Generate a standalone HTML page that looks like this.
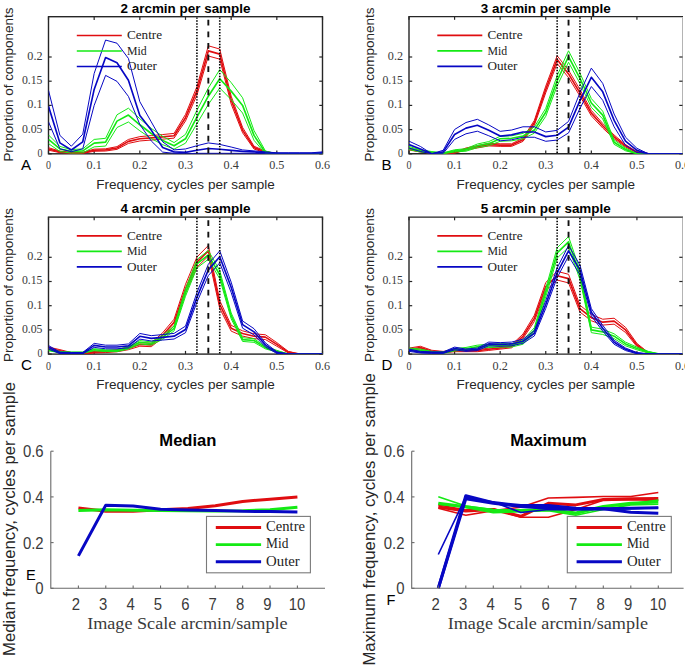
<!DOCTYPE html>
<html><head><meta charset="utf-8"><style>
html,body{margin:0;padding:0;background:#fff;}
body{width:685px;height:669px;position:relative;overflow:hidden;font-family:"Liberation Sans",sans-serif;}
</style></head><body>
<svg width="685" height="669" viewBox="0 0 685 669" style="position:absolute;left:0;top:0">
<rect width="685" height="669" fill="#fff"/>
<clipPath id="clipA"><rect x="48.5" y="16.7" width="274.0" height="137.10000000000002"/></clipPath>
<rect x="48.5" y="16.7" width="274.0" height="137.10000000000002" fill="none" stroke="#262626" stroke-width="1.4"/>
<line x1="48.50" y1="153.8" x2="48.50" y2="150.60000000000002" stroke="#262626" stroke-width="1.2"/>
<line x1="48.50" y1="16.7" x2="48.50" y2="19.9" stroke="#262626" stroke-width="1.2"/>
<line x1="94.17" y1="153.8" x2="94.17" y2="150.60000000000002" stroke="#262626" stroke-width="1.2"/>
<line x1="94.17" y1="16.7" x2="94.17" y2="19.9" stroke="#262626" stroke-width="1.2"/>
<line x1="139.83" y1="153.8" x2="139.83" y2="150.60000000000002" stroke="#262626" stroke-width="1.2"/>
<line x1="139.83" y1="16.7" x2="139.83" y2="19.9" stroke="#262626" stroke-width="1.2"/>
<line x1="185.50" y1="153.8" x2="185.50" y2="150.60000000000002" stroke="#262626" stroke-width="1.2"/>
<line x1="185.50" y1="16.7" x2="185.50" y2="19.9" stroke="#262626" stroke-width="1.2"/>
<line x1="231.17" y1="153.8" x2="231.17" y2="150.60000000000002" stroke="#262626" stroke-width="1.2"/>
<line x1="231.17" y1="16.7" x2="231.17" y2="19.9" stroke="#262626" stroke-width="1.2"/>
<line x1="276.83" y1="153.8" x2="276.83" y2="150.60000000000002" stroke="#262626" stroke-width="1.2"/>
<line x1="276.83" y1="16.7" x2="276.83" y2="19.9" stroke="#262626" stroke-width="1.2"/>
<line x1="322.50" y1="153.8" x2="322.50" y2="150.60000000000002" stroke="#262626" stroke-width="1.2"/>
<line x1="322.50" y1="16.7" x2="322.50" y2="19.9" stroke="#262626" stroke-width="1.2"/>
<line x1="48.5" y1="153.80" x2="51.7" y2="153.80" stroke="#262626" stroke-width="1.2"/>
<line x1="322.5" y1="153.80" x2="319.3" y2="153.80" stroke="#262626" stroke-width="1.2"/>
<line x1="48.5" y1="129.60" x2="51.7" y2="129.60" stroke="#262626" stroke-width="1.2"/>
<line x1="322.5" y1="129.60" x2="319.3" y2="129.60" stroke="#262626" stroke-width="1.2"/>
<line x1="48.5" y1="105.40" x2="51.7" y2="105.40" stroke="#262626" stroke-width="1.2"/>
<line x1="322.5" y1="105.40" x2="319.3" y2="105.40" stroke="#262626" stroke-width="1.2"/>
<line x1="48.5" y1="81.20" x2="51.7" y2="81.20" stroke="#262626" stroke-width="1.2"/>
<line x1="322.5" y1="81.20" x2="319.3" y2="81.20" stroke="#262626" stroke-width="1.2"/>
<line x1="48.5" y1="57.00" x2="51.7" y2="57.00" stroke="#262626" stroke-width="1.2"/>
<line x1="322.5" y1="57.00" x2="319.3" y2="57.00" stroke="#262626" stroke-width="1.2"/>
<g clip-path="url(#clipA)" fill="none" stroke-linejoin="round">
<polyline points="48.50,147.72 59.92,151.08 71.33,152.27 82.75,152.27 94.17,149.15 105.58,148.81 117.00,146.63 128.42,139.44 139.83,136.63 151.25,135.60 162.67,134.56 174.08,133.38 185.50,114.41 196.92,86.68 208.33,45.79 219.75,49.04 231.17,96.15 242.58,127.39 254.00,146.20 265.42,151.25 276.83,153.80 288.25,153.80 299.67,153.80 311.08,153.80 322.50,153.80" stroke="#e00d10" stroke-width="1.0"/>
<polyline points="48.50,150.20 59.92,152.65 71.33,153.39 82.75,153.39 94.17,151.29 105.58,151.04 117.00,149.35 128.42,143.38 139.83,140.96 151.25,140.06 162.67,139.16 174.08,138.11 185.50,120.98 196.92,95.08 208.33,56.01 219.75,59.15 231.17,104.00 242.58,132.78 254.00,149.01 265.42,152.77 276.83,153.80 288.25,153.80 299.67,153.80 311.08,153.80 322.50,153.80" stroke="#e00d10" stroke-width="1.0"/>
<polyline points="48.50,148.96 59.92,151.86 71.33,152.83 82.75,152.83 94.17,150.22 105.58,149.93 117.00,147.99 128.42,141.41 139.83,138.80 151.25,137.83 162.67,136.86 174.08,135.75 185.50,117.69 196.92,90.88 208.33,50.90 219.75,54.10 231.17,100.08 242.58,130.08 254.00,147.60 265.42,152.01 276.83,153.80 288.25,153.80 299.67,153.80 311.08,153.80 322.50,153.80" stroke="#e00d10" stroke-width="1.65"/>
<polyline points="48.50,134.95 59.92,146.43 71.33,149.59 82.75,148.93 94.17,139.43 105.58,138.30 117.00,114.76 128.42,108.19 139.83,118.73 151.25,128.38 162.67,136.34 174.08,142.58 185.50,134.39 196.92,110.28 208.33,87.98 219.75,69.59 231.17,82.59 242.58,97.78 254.00,130.55 265.42,150.96 276.83,153.80 288.25,153.80 299.67,153.80 311.08,153.80 322.50,153.80" stroke="#14ea14" stroke-width="1.0"/>
<polyline points="48.50,143.61 59.92,151.49 71.33,153.17 82.75,152.86 94.17,146.88 105.58,146.07 117.00,127.50 128.42,121.97 139.83,130.79 151.25,138.57 162.67,144.64 174.08,149.05 185.50,143.20 196.92,123.75 208.33,104.43 219.75,87.97 231.17,99.65 242.58,113.02 254.00,140.27 265.42,153.74 276.83,153.80 288.25,153.80 299.67,153.80 311.08,153.80 322.50,153.80" stroke="#14ea14" stroke-width="1.0"/>
<polyline points="48.50,139.28 59.92,148.96 71.33,151.38 82.75,150.90 94.17,143.15 105.58,142.18 117.00,121.13 128.42,115.08 139.83,124.76 151.25,133.47 162.67,140.49 174.08,145.81 185.50,138.80 196.92,117.02 208.33,96.20 219.75,78.78 231.17,91.12 242.58,105.40 254.00,135.41 265.42,152.35 276.83,153.80 288.25,153.80 299.67,153.80 311.08,153.80 322.50,153.80" stroke="#14ea14" stroke-width="1.65"/>
<polyline points="48.50,90.40 59.92,135.41 71.33,146.20 82.75,134.20 94.17,73.46 105.58,40.06 117.00,43.21 128.42,58.45 139.83,101.72 151.25,121.86 162.67,141.89 174.08,149.93 185.50,148.96 196.92,145.72 208.33,142.91 219.75,144.41 231.17,147.02 242.58,149.93 254.00,150.90 265.42,151.86 276.83,152.83 288.25,152.83 299.67,152.83 311.08,152.83 322.50,151.86" stroke="#0707c4" stroke-width="1.0"/>
<polyline points="48.50,121.86 59.92,148.81 71.33,151.72 82.75,148.81 94.17,105.40 105.58,75.39 117.00,81.39 128.42,96.40 139.83,124.52 151.25,140.93 162.67,152.11 174.08,153.32 185.50,153.80 196.92,153.32 208.33,153.32 219.75,153.32 231.17,153.32 242.58,153.32 254.00,153.32 265.42,153.80 276.83,153.80 288.25,153.80 299.67,153.80 311.08,153.80 322.50,153.80" stroke="#0707c4" stroke-width="1.0"/>
<polyline points="48.50,106.37 59.92,142.91 71.33,149.98 82.75,141.80 94.17,89.43 105.58,57.48 117.00,62.81 128.42,80.23 139.83,115.56 151.25,130.08 162.67,147.51 174.08,151.86 185.50,152.35 196.92,150.22 208.33,148.48 219.75,149.30 231.17,150.41 242.58,151.38 254.00,151.86 265.42,152.83 276.83,153.32 288.25,153.32 299.67,153.32 311.08,153.32 322.50,152.83" stroke="#0707c4" stroke-width="1.65"/>
</g>
<line x1="196.92" y1="17.40" x2="196.92" y2="153.80" stroke="#000" stroke-width="1.6" stroke-dasharray="1.45 1.47" stroke-dashoffset="0"/>
<line x1="208.33" y1="16.70" x2="208.33" y2="153.80" stroke="#111" stroke-width="1.9" stroke-dasharray="5.8 5.8" stroke-dashoffset="8.5"/>
<line x1="219.75" y1="17.40" x2="219.75" y2="153.80" stroke="#000" stroke-width="1.6" stroke-dasharray="1.45 1.47" stroke-dashoffset="0"/>
<text x="48.50" y="169.40" font-family="Liberation Serif" font-size="12.0" fill="#3a3a3a" text-anchor="middle" textLength="5.0" lengthAdjust="spacingAndGlyphs">0</text>
<text x="94.17" y="169.40" font-family="Liberation Serif" font-size="12.0" fill="#3a3a3a" text-anchor="middle" textLength="15.2" lengthAdjust="spacingAndGlyphs">0.1</text>
<text x="139.83" y="169.40" font-family="Liberation Serif" font-size="12.0" fill="#3a3a3a" text-anchor="middle" textLength="15.2" lengthAdjust="spacingAndGlyphs">0.2</text>
<text x="185.50" y="169.40" font-family="Liberation Serif" font-size="12.0" fill="#3a3a3a" text-anchor="middle" textLength="15.2" lengthAdjust="spacingAndGlyphs">0.3</text>
<text x="231.17" y="169.40" font-family="Liberation Serif" font-size="12.0" fill="#3a3a3a" text-anchor="middle" textLength="15.2" lengthAdjust="spacingAndGlyphs">0.4</text>
<text x="276.83" y="169.40" font-family="Liberation Serif" font-size="12.0" fill="#3a3a3a" text-anchor="middle" textLength="15.2" lengthAdjust="spacingAndGlyphs">0.5</text>
<text x="322.50" y="169.40" font-family="Liberation Serif" font-size="12.0" fill="#3a3a3a" text-anchor="middle" textLength="15.2" lengthAdjust="spacingAndGlyphs">0.6</text>
<text x="42.50" y="156.70" font-family="Liberation Serif" font-size="12.0" fill="#3a3a3a" text-anchor="end" textLength="5.0" lengthAdjust="spacingAndGlyphs">0</text>
<text x="42.50" y="132.50" font-family="Liberation Serif" font-size="12.0" fill="#3a3a3a" text-anchor="end" textLength="20.6" lengthAdjust="spacingAndGlyphs">0.05</text>
<text x="42.50" y="108.30" font-family="Liberation Serif" font-size="12.0" fill="#3a3a3a" text-anchor="end" textLength="15.2" lengthAdjust="spacingAndGlyphs">0.1</text>
<text x="42.50" y="84.10" font-family="Liberation Serif" font-size="12.0" fill="#3a3a3a" text-anchor="end" textLength="20.6" lengthAdjust="spacingAndGlyphs">0.15</text>
<text x="42.50" y="59.90" font-family="Liberation Serif" font-size="12.0" fill="#3a3a3a" text-anchor="end" textLength="15.2" lengthAdjust="spacingAndGlyphs">0.2</text>
<text x="185.50" y="12.70" font-family="Liberation Sans" font-weight="bold" font-size="12.6" fill="#000" text-anchor="middle" textLength="130" lengthAdjust="spacingAndGlyphs">2 arcmin per sample</text>
<text x="185.50" y="188.80" font-family="Liberation Sans" font-size="13.1" fill="#262626" text-anchor="middle" textLength="178.4" lengthAdjust="spacingAndGlyphs">Frequency, cycles per sample</text>
<text transform="translate(13.10,84.60) rotate(-90)" x="0" y="0" font-family="Liberation Sans" font-size="13.4" fill="#262626" text-anchor="middle" textLength="154" lengthAdjust="spacingAndGlyphs">Proportion of components</text>
<text x="21.10" y="169.70" font-family="Liberation Sans" font-size="15.1" fill="#000">A</text>
<line x1="76.80" y1="35.50" x2="121.80" y2="35.50" stroke="#e00d10" stroke-width="1.6"/>
<text x="127.00" y="39.10" font-family="Liberation Serif" font-size="12.2" fill="#222" textLength="35.1" lengthAdjust="spacingAndGlyphs">Centre</text>
<line x1="76.80" y1="51.00" x2="121.80" y2="51.00" stroke="#14ea14" stroke-width="1.6"/>
<text x="127.00" y="54.60" font-family="Liberation Serif" font-size="12.2" fill="#222" textLength="19.7" lengthAdjust="spacingAndGlyphs">Mid</text>
<line x1="76.80" y1="66.50" x2="121.80" y2="66.50" stroke="#0707c4" stroke-width="1.6"/>
<text x="127.00" y="70.10" font-family="Liberation Serif" font-size="12.2" fill="#222" textLength="30.0" lengthAdjust="spacingAndGlyphs">Outer</text>
<clipPath id="clipB"><rect x="409.0" y="16.6" width="273.5" height="137.20000000000002"/></clipPath>
<path d="M683.00,16.6 H409.0 V153.8 H683.00" fill="none" stroke="#262626" stroke-width="1.4"/>
<line x1="682.50" y1="17.30" x2="682.50" y2="153.10" stroke="#b4b4b4" stroke-width="1.0"/>
<line x1="409.00" y1="153.8" x2="409.00" y2="150.60000000000002" stroke="#262626" stroke-width="1.2"/>
<line x1="409.00" y1="16.6" x2="409.00" y2="19.8" stroke="#262626" stroke-width="1.2"/>
<line x1="454.58" y1="153.8" x2="454.58" y2="150.60000000000002" stroke="#262626" stroke-width="1.2"/>
<line x1="454.58" y1="16.6" x2="454.58" y2="19.8" stroke="#262626" stroke-width="1.2"/>
<line x1="500.17" y1="153.8" x2="500.17" y2="150.60000000000002" stroke="#262626" stroke-width="1.2"/>
<line x1="500.17" y1="16.6" x2="500.17" y2="19.8" stroke="#262626" stroke-width="1.2"/>
<line x1="545.75" y1="153.8" x2="545.75" y2="150.60000000000002" stroke="#262626" stroke-width="1.2"/>
<line x1="545.75" y1="16.6" x2="545.75" y2="19.8" stroke="#262626" stroke-width="1.2"/>
<line x1="591.33" y1="153.8" x2="591.33" y2="150.60000000000002" stroke="#262626" stroke-width="1.2"/>
<line x1="591.33" y1="16.6" x2="591.33" y2="19.8" stroke="#262626" stroke-width="1.2"/>
<line x1="636.92" y1="153.8" x2="636.92" y2="150.60000000000002" stroke="#262626" stroke-width="1.2"/>
<line x1="636.92" y1="16.6" x2="636.92" y2="19.8" stroke="#262626" stroke-width="1.2"/>
<line x1="409.0" y1="153.80" x2="412.2" y2="153.80" stroke="#262626" stroke-width="1.2"/>
<line x1="682.5" y1="153.80" x2="679.3" y2="153.80" stroke="#262626" stroke-width="1.2"/>
<line x1="409.0" y1="129.60" x2="412.2" y2="129.60" stroke="#262626" stroke-width="1.2"/>
<line x1="682.5" y1="129.60" x2="679.3" y2="129.60" stroke="#262626" stroke-width="1.2"/>
<line x1="409.0" y1="105.40" x2="412.2" y2="105.40" stroke="#262626" stroke-width="1.2"/>
<line x1="682.5" y1="105.40" x2="679.3" y2="105.40" stroke="#262626" stroke-width="1.2"/>
<line x1="409.0" y1="81.20" x2="412.2" y2="81.20" stroke="#262626" stroke-width="1.2"/>
<line x1="682.5" y1="81.20" x2="679.3" y2="81.20" stroke="#262626" stroke-width="1.2"/>
<line x1="409.0" y1="57.00" x2="412.2" y2="57.00" stroke="#262626" stroke-width="1.2"/>
<line x1="682.5" y1="57.00" x2="679.3" y2="57.00" stroke="#262626" stroke-width="1.2"/>
<g clip-path="url(#clipB)" fill="none" stroke-linejoin="round">
<polyline points="409.00,147.99 420.40,150.69 431.79,152.40 443.19,153.01 454.58,152.40 465.98,147.99 477.38,145.61 488.77,143.27 500.17,143.79 511.56,143.79 522.96,138.12 534.35,120.43 545.75,86.11 557.15,55.74 568.54,70.31 579.94,89.57 591.33,110.43 602.73,123.44 614.12,135.06 625.52,144.57 636.92,151.81 648.31,153.80 659.71,153.80 671.10,153.80 682.50,153.80" stroke="#e00d10" stroke-width="1.0"/>
<polyline points="409.00,149.93 420.40,152.07 431.79,153.27 443.19,153.63 454.58,153.27 465.98,149.93 477.38,147.95 488.77,145.94 500.17,146.39 511.56,146.39 522.96,141.40 534.35,125.22 545.75,92.75 557.15,63.48 568.54,77.57 579.94,96.06 591.33,115.86 602.73,128.01 614.12,138.66 625.52,147.06 636.92,152.88 648.31,153.80 659.71,153.80 671.10,153.80 682.50,153.80" stroke="#e00d10" stroke-width="1.0"/>
<polyline points="409.00,148.96 420.40,151.38 431.79,152.83 443.19,153.32 454.58,152.83 465.98,148.96 477.38,146.78 488.77,144.60 500.17,145.09 511.56,145.09 522.96,139.76 534.35,122.82 545.75,89.43 557.15,59.61 568.54,73.94 579.94,92.82 591.33,113.14 602.73,125.73 614.12,136.86 625.52,145.81 636.92,152.35 648.31,153.80 659.71,153.80 671.10,153.80 682.50,153.80" stroke="#e00d10" stroke-width="1.65"/>
<polyline points="409.00,146.44 420.40,149.79 431.79,151.57 443.19,152.86 454.58,149.79 465.98,148.66 477.38,144.00 488.77,141.59 500.17,136.32 511.56,135.80 522.96,133.41 534.35,127.00 545.75,108.33 557.15,75.61 568.54,50.80 579.94,73.12 591.33,98.60 602.73,111.21 614.12,140.00 625.52,148.10 636.92,153.80 648.31,153.80 659.71,153.80 671.10,153.80 682.50,153.80" stroke="#14ea14" stroke-width="1.0"/>
<polyline points="409.00,149.55 420.40,152.00 431.79,153.13 443.19,153.77 454.58,152.00 465.98,151.20 477.38,147.63 488.77,145.68 500.17,141.27 511.56,140.82 522.96,138.77 534.35,133.16 545.75,116.32 557.15,85.83 568.54,62.24 579.94,83.47 591.33,107.36 602.73,118.95 614.12,144.37 625.52,150.79 636.92,153.80 648.31,153.80 659.71,153.80 671.10,153.80 682.50,153.80" stroke="#14ea14" stroke-width="1.0"/>
<polyline points="409.00,147.99 420.40,150.90 431.79,152.35 443.19,153.32 454.58,150.90 465.98,149.93 477.38,145.81 488.77,143.64 500.17,138.80 511.56,138.31 522.96,136.09 534.35,130.08 545.75,112.32 557.15,80.72 568.54,56.52 579.94,78.30 591.33,102.98 602.73,115.08 614.12,142.18 625.52,149.44 636.92,153.80 648.31,153.80 659.71,153.80 671.10,153.80 682.50,153.80" stroke="#14ea14" stroke-width="1.65"/>
<polyline points="409.00,141.16 420.40,146.45 431.79,153.80 443.19,150.27 454.58,129.50 465.98,122.50 477.38,119.30 488.77,124.91 500.17,131.35 511.56,130.04 522.96,126.79 534.35,126.79 545.75,131.95 557.15,130.37 568.54,121.43 579.94,92.67 591.33,68.13 602.73,83.42 614.12,114.01 625.52,137.20 636.92,148.31 648.31,153.80 659.71,153.80 671.10,153.80 682.50,153.80" stroke="#0707c4" stroke-width="1.0"/>
<polyline points="409.00,148.05 420.40,151.47 431.79,153.80 443.19,153.46 454.58,139.38 465.98,133.80 477.38,131.19 488.77,135.75 500.17,140.82 511.56,139.81 522.96,137.25 534.35,137.25 545.75,141.29 557.15,140.06 568.54,132.93 579.94,108.45 591.33,86.53 602.73,100.28 614.12,126.80 625.52,145.23 636.92,152.52 648.31,153.80 659.71,153.80 671.10,153.80 682.50,153.80" stroke="#0707c4" stroke-width="1.0"/>
<polyline points="409.00,144.60 420.40,148.96 431.79,153.80 443.19,151.86 454.58,134.44 465.98,128.15 477.38,125.24 488.77,130.33 500.17,136.09 511.56,134.92 522.96,132.02 534.35,132.02 545.75,136.62 557.15,135.21 568.54,127.18 579.94,100.56 591.33,77.33 602.73,91.85 614.12,120.40 625.52,141.22 636.92,150.41 648.31,153.80 659.71,153.80 671.10,153.80 682.50,153.80" stroke="#0707c4" stroke-width="1.65"/>
</g>
<line x1="557.15" y1="17.30" x2="557.15" y2="153.80" stroke="#000" stroke-width="1.6" stroke-dasharray="1.45 1.47" stroke-dashoffset="0"/>
<line x1="568.54" y1="16.60" x2="568.54" y2="153.80" stroke="#111" stroke-width="1.9" stroke-dasharray="5.8 5.8" stroke-dashoffset="8.5"/>
<line x1="579.94" y1="17.30" x2="579.94" y2="153.80" stroke="#000" stroke-width="1.6" stroke-dasharray="1.45 1.47" stroke-dashoffset="0"/>
<text x="409.00" y="169.40" font-family="Liberation Serif" font-size="12.0" fill="#3a3a3a" text-anchor="middle" textLength="5.0" lengthAdjust="spacingAndGlyphs">0</text>
<text x="454.58" y="169.40" font-family="Liberation Serif" font-size="12.0" fill="#3a3a3a" text-anchor="middle" textLength="15.2" lengthAdjust="spacingAndGlyphs">0.1</text>
<text x="500.17" y="169.40" font-family="Liberation Serif" font-size="12.0" fill="#3a3a3a" text-anchor="middle" textLength="15.2" lengthAdjust="spacingAndGlyphs">0.2</text>
<text x="545.75" y="169.40" font-family="Liberation Serif" font-size="12.0" fill="#3a3a3a" text-anchor="middle" textLength="15.2" lengthAdjust="spacingAndGlyphs">0.3</text>
<text x="591.33" y="169.40" font-family="Liberation Serif" font-size="12.0" fill="#3a3a3a" text-anchor="middle" textLength="15.2" lengthAdjust="spacingAndGlyphs">0.4</text>
<text x="636.92" y="169.40" font-family="Liberation Serif" font-size="12.0" fill="#3a3a3a" text-anchor="middle" textLength="15.2" lengthAdjust="spacingAndGlyphs">0.5</text>
<text x="682.50" y="169.40" font-family="Liberation Serif" font-size="12.0" fill="#3a3a3a" text-anchor="middle" textLength="15.2" lengthAdjust="spacingAndGlyphs">0.6</text>
<text x="403.00" y="156.70" font-family="Liberation Serif" font-size="12.0" fill="#3a3a3a" text-anchor="end" textLength="5.0" lengthAdjust="spacingAndGlyphs">0</text>
<text x="403.00" y="132.50" font-family="Liberation Serif" font-size="12.0" fill="#3a3a3a" text-anchor="end" textLength="20.6" lengthAdjust="spacingAndGlyphs">0.05</text>
<text x="403.00" y="108.30" font-family="Liberation Serif" font-size="12.0" fill="#3a3a3a" text-anchor="end" textLength="15.2" lengthAdjust="spacingAndGlyphs">0.1</text>
<text x="403.00" y="84.10" font-family="Liberation Serif" font-size="12.0" fill="#3a3a3a" text-anchor="end" textLength="20.6" lengthAdjust="spacingAndGlyphs">0.15</text>
<text x="403.00" y="59.90" font-family="Liberation Serif" font-size="12.0" fill="#3a3a3a" text-anchor="end" textLength="15.2" lengthAdjust="spacingAndGlyphs">0.2</text>
<text x="545.75" y="12.60" font-family="Liberation Sans" font-weight="bold" font-size="12.6" fill="#000" text-anchor="middle" textLength="130" lengthAdjust="spacingAndGlyphs">3 arcmin per sample</text>
<text x="545.75" y="188.80" font-family="Liberation Sans" font-size="13.1" fill="#262626" text-anchor="middle" textLength="178.4" lengthAdjust="spacingAndGlyphs">Frequency, cycles per sample</text>
<text transform="translate(373.60,84.60) rotate(-90)" x="0" y="0" font-family="Liberation Sans" font-size="13.4" fill="#262626" text-anchor="middle" textLength="154" lengthAdjust="spacingAndGlyphs">Proportion of components</text>
<text x="381.60" y="169.70" font-family="Liberation Sans" font-size="15.1" fill="#000">B</text>
<line x1="437.30" y1="35.40" x2="482.30" y2="35.40" stroke="#e00d10" stroke-width="1.6"/>
<text x="487.50" y="39.00" font-family="Liberation Serif" font-size="12.2" fill="#222" textLength="35.1" lengthAdjust="spacingAndGlyphs">Centre</text>
<line x1="437.30" y1="50.90" x2="482.30" y2="50.90" stroke="#14ea14" stroke-width="1.6"/>
<text x="487.50" y="54.50" font-family="Liberation Serif" font-size="12.2" fill="#222" textLength="19.7" lengthAdjust="spacingAndGlyphs">Mid</text>
<line x1="437.30" y1="66.40" x2="482.30" y2="66.40" stroke="#0707c4" stroke-width="1.6"/>
<text x="487.50" y="70.00" font-family="Liberation Serif" font-size="12.2" fill="#222" textLength="30.0" lengthAdjust="spacingAndGlyphs">Outer</text>
<clipPath id="clipC"><rect x="48.5" y="217.1" width="274.0" height="137.00000000000003"/></clipPath>
<rect x="48.5" y="217.1" width="274.0" height="137.00000000000003" fill="none" stroke="#262626" stroke-width="1.4"/>
<line x1="48.50" y1="354.1" x2="48.50" y2="350.90000000000003" stroke="#262626" stroke-width="1.2"/>
<line x1="48.50" y1="217.1" x2="48.50" y2="220.29999999999998" stroke="#262626" stroke-width="1.2"/>
<line x1="94.17" y1="354.1" x2="94.17" y2="350.90000000000003" stroke="#262626" stroke-width="1.2"/>
<line x1="94.17" y1="217.1" x2="94.17" y2="220.29999999999998" stroke="#262626" stroke-width="1.2"/>
<line x1="139.83" y1="354.1" x2="139.83" y2="350.90000000000003" stroke="#262626" stroke-width="1.2"/>
<line x1="139.83" y1="217.1" x2="139.83" y2="220.29999999999998" stroke="#262626" stroke-width="1.2"/>
<line x1="185.50" y1="354.1" x2="185.50" y2="350.90000000000003" stroke="#262626" stroke-width="1.2"/>
<line x1="185.50" y1="217.1" x2="185.50" y2="220.29999999999998" stroke="#262626" stroke-width="1.2"/>
<line x1="231.17" y1="354.1" x2="231.17" y2="350.90000000000003" stroke="#262626" stroke-width="1.2"/>
<line x1="231.17" y1="217.1" x2="231.17" y2="220.29999999999998" stroke="#262626" stroke-width="1.2"/>
<line x1="276.83" y1="354.1" x2="276.83" y2="350.90000000000003" stroke="#262626" stroke-width="1.2"/>
<line x1="276.83" y1="217.1" x2="276.83" y2="220.29999999999998" stroke="#262626" stroke-width="1.2"/>
<line x1="322.50" y1="354.1" x2="322.50" y2="350.90000000000003" stroke="#262626" stroke-width="1.2"/>
<line x1="322.50" y1="217.1" x2="322.50" y2="220.29999999999998" stroke="#262626" stroke-width="1.2"/>
<line x1="48.5" y1="354.10" x2="51.7" y2="354.10" stroke="#262626" stroke-width="1.2"/>
<line x1="322.5" y1="354.10" x2="319.3" y2="354.10" stroke="#262626" stroke-width="1.2"/>
<line x1="48.5" y1="329.90" x2="51.7" y2="329.90" stroke="#262626" stroke-width="1.2"/>
<line x1="322.5" y1="329.90" x2="319.3" y2="329.90" stroke="#262626" stroke-width="1.2"/>
<line x1="48.5" y1="305.70" x2="51.7" y2="305.70" stroke="#262626" stroke-width="1.2"/>
<line x1="322.5" y1="305.70" x2="319.3" y2="305.70" stroke="#262626" stroke-width="1.2"/>
<line x1="48.5" y1="281.50" x2="51.7" y2="281.50" stroke="#262626" stroke-width="1.2"/>
<line x1="322.5" y1="281.50" x2="319.3" y2="281.50" stroke="#262626" stroke-width="1.2"/>
<line x1="48.5" y1="257.30" x2="51.7" y2="257.30" stroke="#262626" stroke-width="1.2"/>
<line x1="322.5" y1="257.30" x2="319.3" y2="257.30" stroke="#262626" stroke-width="1.2"/>
<g clip-path="url(#clipC)" fill="none" stroke-linejoin="round">
<polyline points="48.50,347.10 59.92,349.63 71.33,352.55 82.75,353.21 94.17,351.35 105.58,350.77 117.00,349.63 128.42,346.88 139.83,342.61 151.25,343.14 162.67,332.72 174.08,319.20 185.50,284.34 196.92,257.07 208.33,245.51 219.75,300.57 231.17,325.30 242.58,330.87 254.00,333.75 265.42,334.78 276.83,342.61 288.25,351.35 299.67,354.10 311.08,354.10 322.50,354.10" stroke="#e00d10" stroke-width="1.0"/>
<polyline points="48.50,349.87 59.92,351.79 71.33,353.71 82.75,354.02 94.17,352.98 105.58,352.59 117.00,351.79 128.42,349.70 139.83,346.23 151.25,346.67 162.67,337.73 174.08,325.60 185.50,293.18 196.92,267.21 208.33,256.11 219.75,308.41 231.17,331.12 242.58,336.09 254.00,338.63 265.42,339.54 276.83,346.23 288.25,352.98 299.67,354.10 311.08,354.10 322.50,354.10" stroke="#e00d10" stroke-width="1.0"/>
<polyline points="48.50,348.49 59.92,350.71 71.33,353.13 82.75,353.62 94.17,352.16 105.58,351.68 117.00,350.71 128.42,348.29 139.83,344.42 151.25,344.90 162.67,335.22 174.08,322.40 185.50,288.76 196.92,262.14 208.33,250.81 219.75,304.49 231.17,328.21 242.58,333.48 254.00,336.19 265.42,337.16 276.83,344.42 288.25,352.16 299.67,354.10 311.08,354.10 322.50,354.10" stroke="#e00d10" stroke-width="1.65"/>
<polyline points="48.50,348.72 59.92,351.48 71.33,352.06 82.75,352.06 94.17,348.72 105.58,349.81 117.00,349.81 128.42,346.58 139.83,340.62 151.25,341.86 162.67,335.32 174.08,326.02 185.50,289.03 196.92,259.57 208.33,250.51 219.75,270.72 231.17,312.94 242.58,337.73 254.00,338.76 265.42,346.37 276.83,350.36 288.25,354.10 299.67,354.10 311.08,354.10 322.50,354.10" stroke="#14ea14" stroke-width="1.0"/>
<polyline points="48.50,350.77 59.92,352.85 71.33,353.24 82.75,353.24 94.17,350.77 105.58,351.61 117.00,351.61 128.42,349.03 139.83,343.96 151.25,345.04 162.67,339.29 174.08,330.87 185.50,296.24 196.92,268.00 208.33,259.25 219.75,278.73 231.17,318.78 242.58,341.43 254.00,342.33 265.42,348.86 276.83,352.03 288.25,354.10 299.67,354.10 311.08,354.10 322.50,354.10" stroke="#14ea14" stroke-width="1.0"/>
<polyline points="48.50,349.74 59.92,352.16 71.33,352.65 82.75,352.65 94.17,349.74 105.58,350.71 117.00,350.71 128.42,347.81 139.83,342.29 151.25,343.45 162.67,337.31 174.08,328.45 185.50,292.63 196.92,263.79 208.33,254.88 219.75,274.72 231.17,315.86 242.58,339.58 254.00,340.55 265.42,347.61 276.83,351.20 288.25,354.10 299.67,354.10 311.08,354.10 322.50,354.10" stroke="#14ea14" stroke-width="1.65"/>
<polyline points="48.50,345.56 59.92,352.14 71.33,352.46 82.75,352.46 94.17,343.39 105.58,345.18 117.00,345.18 128.42,343.93 139.83,333.46 151.25,335.66 162.67,334.56 174.08,333.36 185.50,326.11 196.92,292.65 208.33,264.19 219.75,250.80 231.17,282.13 242.58,320.98 254.00,328.69 265.42,342.86 276.83,351.83 288.25,354.10 299.67,354.10 311.08,354.10 322.50,354.10" stroke="#0707c4" stroke-width="1.0"/>
<polyline points="48.50,349.09 59.92,353.64 71.33,353.80 82.75,353.80 94.17,347.38 105.58,348.79 117.00,348.79 128.42,347.81 139.83,339.11 151.25,340.99 162.67,340.05 174.08,339.02 185.50,332.72 196.92,302.30 208.33,275.57 219.75,262.83 231.17,292.48 242.58,328.17 254.00,334.98 265.42,346.95 276.83,353.47 288.25,354.10 299.67,354.10 311.08,354.10 322.50,354.10" stroke="#0707c4" stroke-width="1.0"/>
<polyline points="48.50,347.32 59.92,352.89 71.33,353.13 82.75,353.13 94.17,345.39 105.58,346.99 117.00,346.99 128.42,345.87 139.83,336.29 151.25,338.32 162.67,337.31 174.08,336.19 185.50,329.42 196.92,297.47 208.33,269.88 219.75,256.82 231.17,287.31 242.58,324.58 254.00,331.84 265.42,344.90 276.83,352.65 288.25,354.10 299.67,354.10 311.08,354.10 322.50,354.10" stroke="#0707c4" stroke-width="1.65"/>
</g>
<line x1="196.92" y1="217.80" x2="196.92" y2="354.10" stroke="#000" stroke-width="1.6" stroke-dasharray="1.45 1.47" stroke-dashoffset="0"/>
<line x1="208.33" y1="217.10" x2="208.33" y2="354.10" stroke="#111" stroke-width="1.9" stroke-dasharray="5.8 5.8" stroke-dashoffset="8.5"/>
<line x1="219.75" y1="217.80" x2="219.75" y2="354.10" stroke="#000" stroke-width="1.6" stroke-dasharray="1.45 1.47" stroke-dashoffset="0"/>
<text x="48.50" y="369.70" font-family="Liberation Serif" font-size="12.0" fill="#3a3a3a" text-anchor="middle" textLength="5.0" lengthAdjust="spacingAndGlyphs">0</text>
<text x="94.17" y="369.70" font-family="Liberation Serif" font-size="12.0" fill="#3a3a3a" text-anchor="middle" textLength="15.2" lengthAdjust="spacingAndGlyphs">0.1</text>
<text x="139.83" y="369.70" font-family="Liberation Serif" font-size="12.0" fill="#3a3a3a" text-anchor="middle" textLength="15.2" lengthAdjust="spacingAndGlyphs">0.2</text>
<text x="185.50" y="369.70" font-family="Liberation Serif" font-size="12.0" fill="#3a3a3a" text-anchor="middle" textLength="15.2" lengthAdjust="spacingAndGlyphs">0.3</text>
<text x="231.17" y="369.70" font-family="Liberation Serif" font-size="12.0" fill="#3a3a3a" text-anchor="middle" textLength="15.2" lengthAdjust="spacingAndGlyphs">0.4</text>
<text x="276.83" y="369.70" font-family="Liberation Serif" font-size="12.0" fill="#3a3a3a" text-anchor="middle" textLength="15.2" lengthAdjust="spacingAndGlyphs">0.5</text>
<text x="322.50" y="369.70" font-family="Liberation Serif" font-size="12.0" fill="#3a3a3a" text-anchor="middle" textLength="15.2" lengthAdjust="spacingAndGlyphs">0.6</text>
<text x="42.50" y="357.00" font-family="Liberation Serif" font-size="12.0" fill="#3a3a3a" text-anchor="end" textLength="5.0" lengthAdjust="spacingAndGlyphs">0</text>
<text x="42.50" y="332.80" font-family="Liberation Serif" font-size="12.0" fill="#3a3a3a" text-anchor="end" textLength="20.6" lengthAdjust="spacingAndGlyphs">0.05</text>
<text x="42.50" y="308.60" font-family="Liberation Serif" font-size="12.0" fill="#3a3a3a" text-anchor="end" textLength="15.2" lengthAdjust="spacingAndGlyphs">0.1</text>
<text x="42.50" y="284.40" font-family="Liberation Serif" font-size="12.0" fill="#3a3a3a" text-anchor="end" textLength="20.6" lengthAdjust="spacingAndGlyphs">0.15</text>
<text x="42.50" y="260.20" font-family="Liberation Serif" font-size="12.0" fill="#3a3a3a" text-anchor="end" textLength="15.2" lengthAdjust="spacingAndGlyphs">0.2</text>
<text x="185.50" y="213.10" font-family="Liberation Sans" font-weight="bold" font-size="12.6" fill="#000" text-anchor="middle" textLength="130" lengthAdjust="spacingAndGlyphs">4 arcmin per sample</text>
<text x="185.50" y="389.10" font-family="Liberation Sans" font-size="13.1" fill="#262626" text-anchor="middle" textLength="178.4" lengthAdjust="spacingAndGlyphs">Frequency, cycles per sample</text>
<text transform="translate(13.10,284.90) rotate(-90)" x="0" y="0" font-family="Liberation Sans" font-size="13.4" fill="#262626" text-anchor="middle" textLength="154" lengthAdjust="spacingAndGlyphs">Proportion of components</text>
<text x="21.10" y="370.00" font-family="Liberation Sans" font-size="15.1" fill="#000">C</text>
<line x1="76.80" y1="235.90" x2="121.80" y2="235.90" stroke="#e00d10" stroke-width="1.6"/>
<text x="127.00" y="239.50" font-family="Liberation Serif" font-size="12.2" fill="#222" textLength="35.1" lengthAdjust="spacingAndGlyphs">Centre</text>
<line x1="76.80" y1="251.40" x2="121.80" y2="251.40" stroke="#14ea14" stroke-width="1.6"/>
<text x="127.00" y="255.00" font-family="Liberation Serif" font-size="12.2" fill="#222" textLength="19.7" lengthAdjust="spacingAndGlyphs">Mid</text>
<line x1="76.80" y1="266.90" x2="121.80" y2="266.90" stroke="#0707c4" stroke-width="1.6"/>
<text x="127.00" y="270.50" font-family="Liberation Serif" font-size="12.2" fill="#222" textLength="30.0" lengthAdjust="spacingAndGlyphs">Outer</text>
<clipPath id="clipD"><rect x="409.0" y="217.1" width="273.5" height="137.00000000000003"/></clipPath>
<path d="M683.00,217.1 H409.0 V354.1 H683.00" fill="none" stroke="#262626" stroke-width="1.4"/>
<line x1="682.50" y1="217.80" x2="682.50" y2="353.40" stroke="#b4b4b4" stroke-width="1.0"/>
<line x1="409.00" y1="354.1" x2="409.00" y2="350.90000000000003" stroke="#262626" stroke-width="1.2"/>
<line x1="409.00" y1="217.1" x2="409.00" y2="220.29999999999998" stroke="#262626" stroke-width="1.2"/>
<line x1="454.58" y1="354.1" x2="454.58" y2="350.90000000000003" stroke="#262626" stroke-width="1.2"/>
<line x1="454.58" y1="217.1" x2="454.58" y2="220.29999999999998" stroke="#262626" stroke-width="1.2"/>
<line x1="500.17" y1="354.1" x2="500.17" y2="350.90000000000003" stroke="#262626" stroke-width="1.2"/>
<line x1="500.17" y1="217.1" x2="500.17" y2="220.29999999999998" stroke="#262626" stroke-width="1.2"/>
<line x1="545.75" y1="354.1" x2="545.75" y2="350.90000000000003" stroke="#262626" stroke-width="1.2"/>
<line x1="545.75" y1="217.1" x2="545.75" y2="220.29999999999998" stroke="#262626" stroke-width="1.2"/>
<line x1="591.33" y1="354.1" x2="591.33" y2="350.90000000000003" stroke="#262626" stroke-width="1.2"/>
<line x1="591.33" y1="217.1" x2="591.33" y2="220.29999999999998" stroke="#262626" stroke-width="1.2"/>
<line x1="636.92" y1="354.1" x2="636.92" y2="350.90000000000003" stroke="#262626" stroke-width="1.2"/>
<line x1="636.92" y1="217.1" x2="636.92" y2="220.29999999999998" stroke="#262626" stroke-width="1.2"/>
<line x1="409.0" y1="354.10" x2="412.2" y2="354.10" stroke="#262626" stroke-width="1.2"/>
<line x1="682.5" y1="354.10" x2="679.3" y2="354.10" stroke="#262626" stroke-width="1.2"/>
<line x1="409.0" y1="329.90" x2="412.2" y2="329.90" stroke="#262626" stroke-width="1.2"/>
<line x1="682.5" y1="329.90" x2="679.3" y2="329.90" stroke="#262626" stroke-width="1.2"/>
<line x1="409.0" y1="305.70" x2="412.2" y2="305.70" stroke="#262626" stroke-width="1.2"/>
<line x1="682.5" y1="305.70" x2="679.3" y2="305.70" stroke="#262626" stroke-width="1.2"/>
<line x1="409.0" y1="281.50" x2="412.2" y2="281.50" stroke="#262626" stroke-width="1.2"/>
<line x1="682.5" y1="281.50" x2="679.3" y2="281.50" stroke="#262626" stroke-width="1.2"/>
<line x1="409.0" y1="257.30" x2="412.2" y2="257.30" stroke="#262626" stroke-width="1.2"/>
<line x1="682.5" y1="257.30" x2="679.3" y2="257.30" stroke="#262626" stroke-width="1.2"/>
<g clip-path="url(#clipD)" fill="none" stroke-linejoin="round">
<polyline points="409.00,348.09 420.40,346.26 431.79,350.28 443.19,351.42 454.58,349.73 465.98,349.73 477.38,349.73 488.77,348.09 500.17,346.47 511.56,344.87 522.96,334.07 534.35,315.29 545.75,282.49 557.15,271.34 568.54,274.31 579.94,305.16 591.33,314.49 602.73,319.22 614.12,318.22 625.52,327.33 636.92,343.40 648.31,352.60 659.71,354.10 671.10,354.10 682.50,354.10" stroke="#e00d10" stroke-width="1.0"/>
<polyline points="409.00,350.43 420.40,348.97 431.79,352.11 443.19,352.91 454.58,351.70 465.98,351.70 477.38,351.70 488.77,350.43 500.17,349.15 511.56,347.84 522.96,338.51 534.35,321.47 545.75,290.67 557.15,280.04 568.54,282.88 579.94,312.05 591.33,320.72 602.73,325.09 614.12,324.16 625.52,332.47 636.92,346.60 648.31,353.66 659.71,354.10 671.10,354.10 682.50,354.10" stroke="#e00d10" stroke-width="1.0"/>
<polyline points="409.00,349.26 420.40,347.61 431.79,351.20 443.19,352.16 454.58,350.71 465.98,350.71 477.38,350.71 488.77,349.26 500.17,347.81 511.56,346.36 522.96,336.29 534.35,318.38 545.75,286.58 557.15,275.69 568.54,278.60 579.94,308.60 591.33,317.61 602.73,322.16 614.12,321.19 625.52,329.90 636.92,345.00 648.31,353.13 659.71,354.10 671.10,354.10 682.50,354.10" stroke="#e00d10" stroke-width="1.65"/>
<polyline points="409.00,348.00 420.40,349.10 431.79,351.37 443.19,351.96 454.58,348.55 465.98,347.46 477.38,345.15 488.77,344.24 500.17,343.71 511.56,343.71 522.96,340.34 534.35,327.66 545.75,288.43 557.15,247.81 568.54,236.58 579.94,270.05 591.33,327.15 602.73,329.19 614.12,333.81 625.52,342.13 636.92,347.13 648.31,351.37 659.71,354.10 671.10,354.10 682.50,354.10" stroke="#14ea14" stroke-width="1.0"/>
<polyline points="409.00,350.52 420.40,351.35 431.79,352.96 443.19,353.34 454.58,350.94 465.98,350.09 477.38,348.24 488.77,347.50 500.17,347.07 511.56,347.07 522.96,344.24 534.35,333.11 545.75,296.84 557.15,258.08 568.54,247.24 579.94,279.40 591.33,332.65 602.73,334.48 614.12,338.57 625.52,345.75 636.92,349.84 648.31,352.96 659.71,354.10 671.10,354.10 682.50,354.10" stroke="#14ea14" stroke-width="1.0"/>
<polyline points="409.00,349.26 420.40,350.23 431.79,352.16 443.19,352.65 454.58,349.74 465.98,348.78 477.38,346.69 488.77,345.87 500.17,345.39 511.56,345.39 522.96,342.29 534.35,330.38 545.75,292.63 557.15,252.94 568.54,241.91 579.94,274.72 591.33,329.90 602.73,331.84 614.12,336.19 625.52,343.94 636.92,348.49 648.31,352.16 659.71,354.10 671.10,354.10 682.50,354.10" stroke="#14ea14" stroke-width="1.65"/>
<polyline points="409.00,349.08 420.40,351.35 431.79,351.94 443.19,351.94 454.58,347.10 465.98,349.08 477.38,347.97 488.77,342.08 500.17,342.61 511.56,342.08 522.96,339.20 534.35,330.66 545.75,300.57 557.15,267.95 568.54,245.51 579.94,264.98 591.33,308.65 602.73,325.30 614.12,340.29 625.52,347.97 636.92,352.55 648.31,354.10 659.71,354.10 671.10,354.10 682.50,354.10" stroke="#0707c4" stroke-width="1.0"/>
<polyline points="409.00,351.38 420.40,352.98 431.79,353.36 443.19,353.36 454.58,349.87 465.98,351.38 477.38,350.55 488.77,345.79 500.17,346.23 511.56,345.79 522.96,343.35 534.35,335.91 545.75,308.41 557.15,277.62 568.54,256.11 579.94,274.79 591.33,315.92 602.73,331.12 614.12,344.29 625.52,350.55 636.92,353.71 648.31,354.10 659.71,354.10 671.10,354.10 682.50,354.10" stroke="#0707c4" stroke-width="1.0"/>
<polyline points="409.00,350.23 420.40,352.16 431.79,352.65 443.19,352.65 454.58,348.49 465.98,350.23 477.38,349.26 488.77,343.94 500.17,344.42 511.56,343.94 522.96,341.27 534.35,333.29 545.75,304.49 557.15,272.79 568.54,250.81 579.94,269.88 591.33,312.28 602.73,328.21 614.12,342.29 625.52,349.26 636.92,353.13 648.31,354.10 659.71,354.10 671.10,354.10 682.50,354.10" stroke="#0707c4" stroke-width="1.65"/>
</g>
<line x1="557.15" y1="217.80" x2="557.15" y2="354.10" stroke="#000" stroke-width="1.6" stroke-dasharray="1.45 1.47" stroke-dashoffset="0"/>
<line x1="568.54" y1="217.10" x2="568.54" y2="354.10" stroke="#111" stroke-width="1.9" stroke-dasharray="5.8 5.8" stroke-dashoffset="8.5"/>
<line x1="579.94" y1="217.80" x2="579.94" y2="354.10" stroke="#000" stroke-width="1.6" stroke-dasharray="1.45 1.47" stroke-dashoffset="0"/>
<text x="409.00" y="369.70" font-family="Liberation Serif" font-size="12.0" fill="#3a3a3a" text-anchor="middle" textLength="5.0" lengthAdjust="spacingAndGlyphs">0</text>
<text x="454.58" y="369.70" font-family="Liberation Serif" font-size="12.0" fill="#3a3a3a" text-anchor="middle" textLength="15.2" lengthAdjust="spacingAndGlyphs">0.1</text>
<text x="500.17" y="369.70" font-family="Liberation Serif" font-size="12.0" fill="#3a3a3a" text-anchor="middle" textLength="15.2" lengthAdjust="spacingAndGlyphs">0.2</text>
<text x="545.75" y="369.70" font-family="Liberation Serif" font-size="12.0" fill="#3a3a3a" text-anchor="middle" textLength="15.2" lengthAdjust="spacingAndGlyphs">0.3</text>
<text x="591.33" y="369.70" font-family="Liberation Serif" font-size="12.0" fill="#3a3a3a" text-anchor="middle" textLength="15.2" lengthAdjust="spacingAndGlyphs">0.4</text>
<text x="636.92" y="369.70" font-family="Liberation Serif" font-size="12.0" fill="#3a3a3a" text-anchor="middle" textLength="15.2" lengthAdjust="spacingAndGlyphs">0.5</text>
<text x="682.50" y="369.70" font-family="Liberation Serif" font-size="12.0" fill="#3a3a3a" text-anchor="middle" textLength="15.2" lengthAdjust="spacingAndGlyphs">0.6</text>
<text x="403.00" y="357.00" font-family="Liberation Serif" font-size="12.0" fill="#3a3a3a" text-anchor="end" textLength="5.0" lengthAdjust="spacingAndGlyphs">0</text>
<text x="403.00" y="332.80" font-family="Liberation Serif" font-size="12.0" fill="#3a3a3a" text-anchor="end" textLength="20.6" lengthAdjust="spacingAndGlyphs">0.05</text>
<text x="403.00" y="308.60" font-family="Liberation Serif" font-size="12.0" fill="#3a3a3a" text-anchor="end" textLength="15.2" lengthAdjust="spacingAndGlyphs">0.1</text>
<text x="403.00" y="284.40" font-family="Liberation Serif" font-size="12.0" fill="#3a3a3a" text-anchor="end" textLength="20.6" lengthAdjust="spacingAndGlyphs">0.15</text>
<text x="403.00" y="260.20" font-family="Liberation Serif" font-size="12.0" fill="#3a3a3a" text-anchor="end" textLength="15.2" lengthAdjust="spacingAndGlyphs">0.2</text>
<text x="545.75" y="213.10" font-family="Liberation Sans" font-weight="bold" font-size="12.6" fill="#000" text-anchor="middle" textLength="130" lengthAdjust="spacingAndGlyphs">5 arcmin per sample</text>
<text x="545.75" y="389.10" font-family="Liberation Sans" font-size="13.1" fill="#262626" text-anchor="middle" textLength="178.4" lengthAdjust="spacingAndGlyphs">Frequency, cycles per sample</text>
<text transform="translate(373.60,284.90) rotate(-90)" x="0" y="0" font-family="Liberation Sans" font-size="13.4" fill="#262626" text-anchor="middle" textLength="154" lengthAdjust="spacingAndGlyphs">Proportion of components</text>
<text x="381.60" y="370.00" font-family="Liberation Sans" font-size="15.1" fill="#000">D</text>
<line x1="437.30" y1="235.90" x2="482.30" y2="235.90" stroke="#e00d10" stroke-width="1.6"/>
<text x="487.50" y="239.50" font-family="Liberation Serif" font-size="12.2" fill="#222" textLength="35.1" lengthAdjust="spacingAndGlyphs">Centre</text>
<line x1="437.30" y1="251.40" x2="482.30" y2="251.40" stroke="#14ea14" stroke-width="1.6"/>
<text x="487.50" y="255.00" font-family="Liberation Serif" font-size="12.2" fill="#222" textLength="19.7" lengthAdjust="spacingAndGlyphs">Mid</text>
<line x1="437.30" y1="266.90" x2="482.30" y2="266.90" stroke="#0707c4" stroke-width="1.6"/>
<text x="487.50" y="270.50" font-family="Liberation Serif" font-size="12.2" fill="#222" textLength="30.0" lengthAdjust="spacingAndGlyphs">Outer</text>
<g fill="none" stroke-linejoin="round">
<polyline points="78.40,507.87 105.78,511.30 133.15,511.30 160.53,509.70 187.90,508.55 215.28,505.81 242.65,501.47 270.02,499.18 297.40,496.90" stroke="#e00d10" stroke-width="3.0"/>
<polyline points="78.40,510.38 105.78,509.70 133.15,510.15 160.53,510.38 187.90,510.84 215.28,511.07 242.65,510.84 270.02,509.70 297.40,507.18" stroke="#14ea14" stroke-width="3.0"/>
<polyline points="78.40,555.85 105.78,505.13 133.15,506.04 160.53,509.24 187.90,509.92 215.28,510.38 242.65,511.30 270.02,511.52 297.40,511.98" stroke="#0707c4" stroke-width="3.0"/>
</g>
<path d="M50.8,451.20 V588.3 H325.0" fill="none" stroke="#6a6a6a" stroke-width="1.1"/>
<line x1="50.8" y1="588.30" x2="53.599999999999994" y2="588.30" stroke="#6a6a6a" stroke-width="1.1"/>
<text x="43.60" y="594.40" font-family="Liberation Sans" font-size="15.9" fill="#3a3a3a" text-anchor="end" textLength="8.28" lengthAdjust="spacingAndGlyphs">0</text>
<line x1="50.8" y1="542.60" x2="53.599999999999994" y2="542.60" stroke="#6a6a6a" stroke-width="1.1"/>
<text x="43.60" y="548.70" font-family="Liberation Sans" font-size="15.9" fill="#3a3a3a" text-anchor="end" textLength="20.71" lengthAdjust="spacingAndGlyphs">0.2</text>
<line x1="50.8" y1="496.90" x2="53.599999999999994" y2="496.90" stroke="#6a6a6a" stroke-width="1.1"/>
<text x="43.60" y="503.00" font-family="Liberation Sans" font-size="15.9" fill="#3a3a3a" text-anchor="end" textLength="20.71" lengthAdjust="spacingAndGlyphs">0.4</text>
<line x1="50.8" y1="451.20" x2="53.599999999999994" y2="451.20" stroke="#6a6a6a" stroke-width="1.1"/>
<text x="43.60" y="457.30" font-family="Liberation Sans" font-size="15.9" fill="#3a3a3a" text-anchor="end" textLength="20.71" lengthAdjust="spacingAndGlyphs">0.6</text>
<line x1="78.40" y1="588.3" x2="78.40" y2="585.5" stroke="#6a6a6a" stroke-width="1.1"/>
<text x="75.80" y="610.30" font-family="Liberation Sans" font-size="15.8" fill="#3a3a3a" text-anchor="middle" textLength="8.28" lengthAdjust="spacingAndGlyphs">2</text>
<line x1="105.78" y1="588.3" x2="105.78" y2="585.5" stroke="#6a6a6a" stroke-width="1.1"/>
<text x="103.18" y="610.30" font-family="Liberation Sans" font-size="15.8" fill="#3a3a3a" text-anchor="middle" textLength="8.28" lengthAdjust="spacingAndGlyphs">3</text>
<line x1="133.15" y1="588.3" x2="133.15" y2="585.5" stroke="#6a6a6a" stroke-width="1.1"/>
<text x="130.55" y="610.30" font-family="Liberation Sans" font-size="15.8" fill="#3a3a3a" text-anchor="middle" textLength="8.28" lengthAdjust="spacingAndGlyphs">4</text>
<line x1="160.53" y1="588.3" x2="160.53" y2="585.5" stroke="#6a6a6a" stroke-width="1.1"/>
<text x="157.93" y="610.30" font-family="Liberation Sans" font-size="15.8" fill="#3a3a3a" text-anchor="middle" textLength="8.28" lengthAdjust="spacingAndGlyphs">5</text>
<line x1="187.90" y1="588.3" x2="187.90" y2="585.5" stroke="#6a6a6a" stroke-width="1.1"/>
<text x="185.30" y="610.30" font-family="Liberation Sans" font-size="15.8" fill="#3a3a3a" text-anchor="middle" textLength="8.28" lengthAdjust="spacingAndGlyphs">6</text>
<line x1="215.28" y1="588.3" x2="215.28" y2="585.5" stroke="#6a6a6a" stroke-width="1.1"/>
<text x="212.68" y="610.30" font-family="Liberation Sans" font-size="15.8" fill="#3a3a3a" text-anchor="middle" textLength="8.28" lengthAdjust="spacingAndGlyphs">7</text>
<line x1="242.65" y1="588.3" x2="242.65" y2="585.5" stroke="#6a6a6a" stroke-width="1.1"/>
<text x="240.05" y="610.30" font-family="Liberation Sans" font-size="15.8" fill="#3a3a3a" text-anchor="middle" textLength="8.28" lengthAdjust="spacingAndGlyphs">8</text>
<line x1="270.02" y1="588.3" x2="270.02" y2="585.5" stroke="#6a6a6a" stroke-width="1.1"/>
<text x="267.42" y="610.30" font-family="Liberation Sans" font-size="15.8" fill="#3a3a3a" text-anchor="middle" textLength="8.28" lengthAdjust="spacingAndGlyphs">9</text>
<line x1="297.40" y1="588.3" x2="297.40" y2="585.5" stroke="#6a6a6a" stroke-width="1.1"/>
<text x="297.10" y="610.30" font-family="Liberation Sans" font-size="15.8" fill="#3a3a3a" text-anchor="middle" textLength="16.57" lengthAdjust="spacingAndGlyphs">10</text>
<text x="187.90" y="446.0" font-family="Liberation Sans" font-weight="bold" font-size="16.6" fill="#000" text-anchor="middle">Median</text>
<text x="187.40" y="629.3" font-family="Liberation Serif" font-size="16.6" fill="#3a3a3a" text-anchor="middle" textLength="200.5" lengthAdjust="spacingAndGlyphs">Image Scale arcmin/sample</text>
<text transform="translate(15.30,519.00) rotate(-90)" font-family="Liberation Sans" font-size="16.4" fill="#262626" text-anchor="middle" textLength="274.0" lengthAdjust="spacingAndGlyphs">Median frequency, cycles per sample</text>
<text x="26.0" y="579.7" font-family="Liberation Sans" font-size="14.6" fill="#000">E</text>
<g fill="none" stroke-linejoin="round">
<polyline points="438.30,508.32 465.80,515.18 493.30,510.61 520.80,507.18 548.30,498.04 575.80,497.36 603.30,496.44 630.80,496.44 658.30,492.56" stroke="#e00d10" stroke-width="1.6"/>
<polyline points="438.30,504.90 465.80,509.92 493.30,508.78 520.80,517.24 548.30,517.24 575.80,509.47 603.30,500.33 630.80,499.64 658.30,500.33" stroke="#e00d10" stroke-width="1.6"/>
<polyline points="438.30,506.95 465.80,511.07 493.30,509.47 520.80,516.32 548.30,503.30 575.80,504.90 603.30,499.41 630.80,498.73 658.30,498.50" stroke="#e00d10" stroke-width="3.0"/>
<polyline points="438.30,496.67 465.80,506.04 493.30,509.47 520.80,511.30 548.30,509.47 575.80,514.04 603.30,507.18 630.80,503.75 658.30,500.10" stroke="#14ea14" stroke-width="1.6"/>
<polyline points="438.30,504.21 465.80,507.41 493.30,512.67 520.80,511.75 548.30,510.61 575.80,515.18 603.30,509.47 630.80,504.90 658.30,504.21" stroke="#14ea14" stroke-width="1.6"/>
<polyline points="438.30,503.30 465.80,506.73 493.30,510.61 520.80,510.61 548.30,509.47 575.80,512.89 603.30,506.50 630.80,503.30 658.30,501.93" stroke="#14ea14" stroke-width="3.0"/>
<polyline points="438.30,554.48 465.80,496.90 493.30,501.93 520.80,512.44 548.30,509.47 575.80,509.70 603.30,509.47 630.80,508.78 658.30,507.64" stroke="#0707c4" stroke-width="1.6"/>
<polyline points="438.30,588.30 465.80,498.73 493.30,503.30 520.80,506.50 548.30,508.32 575.80,509.01 603.30,508.78 630.80,508.32 658.30,507.64" stroke="#0707c4" stroke-width="3.0"/>
<polyline points="438.30,588.30 465.80,495.76 493.30,502.61 520.80,505.58 548.30,505.58 575.80,508.32 603.30,508.78 630.80,512.21 658.30,513.35" stroke="#0707c4" stroke-width="3.0"/>
</g>
<path d="M411.7,451.20 V588.3 H683.6" fill="none" stroke="#6a6a6a" stroke-width="1.1"/>
<line x1="411.7" y1="588.30" x2="414.5" y2="588.30" stroke="#6a6a6a" stroke-width="1.1"/>
<text x="404.50" y="594.40" font-family="Liberation Sans" font-size="15.9" fill="#3a3a3a" text-anchor="end" textLength="8.28" lengthAdjust="spacingAndGlyphs">0</text>
<line x1="411.7" y1="542.60" x2="414.5" y2="542.60" stroke="#6a6a6a" stroke-width="1.1"/>
<text x="404.50" y="548.70" font-family="Liberation Sans" font-size="15.9" fill="#3a3a3a" text-anchor="end" textLength="20.71" lengthAdjust="spacingAndGlyphs">0.2</text>
<line x1="411.7" y1="496.90" x2="414.5" y2="496.90" stroke="#6a6a6a" stroke-width="1.1"/>
<text x="404.50" y="503.00" font-family="Liberation Sans" font-size="15.9" fill="#3a3a3a" text-anchor="end" textLength="20.71" lengthAdjust="spacingAndGlyphs">0.4</text>
<line x1="411.7" y1="451.20" x2="414.5" y2="451.20" stroke="#6a6a6a" stroke-width="1.1"/>
<text x="404.50" y="457.30" font-family="Liberation Sans" font-size="15.9" fill="#3a3a3a" text-anchor="end" textLength="20.71" lengthAdjust="spacingAndGlyphs">0.6</text>
<line x1="438.30" y1="588.3" x2="438.30" y2="585.5" stroke="#6a6a6a" stroke-width="1.1"/>
<text x="435.70" y="610.30" font-family="Liberation Sans" font-size="15.8" fill="#3a3a3a" text-anchor="middle" textLength="8.28" lengthAdjust="spacingAndGlyphs">2</text>
<line x1="465.80" y1="588.3" x2="465.80" y2="585.5" stroke="#6a6a6a" stroke-width="1.1"/>
<text x="463.20" y="610.30" font-family="Liberation Sans" font-size="15.8" fill="#3a3a3a" text-anchor="middle" textLength="8.28" lengthAdjust="spacingAndGlyphs">3</text>
<line x1="493.30" y1="588.3" x2="493.30" y2="585.5" stroke="#6a6a6a" stroke-width="1.1"/>
<text x="490.70" y="610.30" font-family="Liberation Sans" font-size="15.8" fill="#3a3a3a" text-anchor="middle" textLength="8.28" lengthAdjust="spacingAndGlyphs">4</text>
<line x1="520.80" y1="588.3" x2="520.80" y2="585.5" stroke="#6a6a6a" stroke-width="1.1"/>
<text x="518.20" y="610.30" font-family="Liberation Sans" font-size="15.8" fill="#3a3a3a" text-anchor="middle" textLength="8.28" lengthAdjust="spacingAndGlyphs">5</text>
<line x1="548.30" y1="588.3" x2="548.30" y2="585.5" stroke="#6a6a6a" stroke-width="1.1"/>
<text x="545.70" y="610.30" font-family="Liberation Sans" font-size="15.8" fill="#3a3a3a" text-anchor="middle" textLength="8.28" lengthAdjust="spacingAndGlyphs">6</text>
<line x1="575.80" y1="588.3" x2="575.80" y2="585.5" stroke="#6a6a6a" stroke-width="1.1"/>
<text x="573.20" y="610.30" font-family="Liberation Sans" font-size="15.8" fill="#3a3a3a" text-anchor="middle" textLength="8.28" lengthAdjust="spacingAndGlyphs">7</text>
<line x1="603.30" y1="588.3" x2="603.30" y2="585.5" stroke="#6a6a6a" stroke-width="1.1"/>
<text x="600.70" y="610.30" font-family="Liberation Sans" font-size="15.8" fill="#3a3a3a" text-anchor="middle" textLength="8.28" lengthAdjust="spacingAndGlyphs">8</text>
<line x1="630.80" y1="588.3" x2="630.80" y2="585.5" stroke="#6a6a6a" stroke-width="1.1"/>
<text x="628.20" y="610.30" font-family="Liberation Sans" font-size="15.8" fill="#3a3a3a" text-anchor="middle" textLength="8.28" lengthAdjust="spacingAndGlyphs">9</text>
<line x1="658.30" y1="588.3" x2="658.30" y2="585.5" stroke="#6a6a6a" stroke-width="1.1"/>
<text x="658.00" y="610.30" font-family="Liberation Sans" font-size="15.8" fill="#3a3a3a" text-anchor="middle" textLength="16.57" lengthAdjust="spacingAndGlyphs">10</text>
<text x="548.40" y="446.0" font-family="Liberation Sans" font-weight="bold" font-size="16.6" fill="#000" text-anchor="middle">Maximum</text>
<text x="547.90" y="629.3" font-family="Liberation Serif" font-size="16.6" fill="#3a3a3a" text-anchor="middle" textLength="200.5" lengthAdjust="spacingAndGlyphs">Image Scale arcmin/sample</text>
<text transform="translate(374.60,519.45) rotate(-90)" font-family="Liberation Sans" font-size="16.4" fill="#262626" text-anchor="middle" textLength="292.3" lengthAdjust="spacingAndGlyphs">Maximum frequency, cycles per sample</text>
<text x="386.6" y="604.8" font-family="Liberation Sans" font-size="14.6" fill="#000">F</text>
<rect x="206.5" y="516.4" width="103.90" height="56.4" fill="#fff" stroke="#7a7a7a" stroke-width="1.1"/>
<line x1="215.80" y1="527.50" x2="261.10" y2="527.50" stroke="#e00d10" stroke-width="2.9"/>
<text x="266.10" y="531.20" font-family="Liberation Serif" font-size="14.2" fill="#222" textLength="38.9" lengthAdjust="spacingAndGlyphs">Centre</text>
<line x1="215.80" y1="544.65" x2="261.10" y2="544.65" stroke="#14ea14" stroke-width="2.9"/>
<text x="266.10" y="548.35" font-family="Liberation Serif" font-size="14.2" fill="#222" textLength="22.3" lengthAdjust="spacingAndGlyphs">Mid</text>
<line x1="215.80" y1="561.80" x2="261.10" y2="561.80" stroke="#0707c4" stroke-width="2.9"/>
<text x="266.10" y="565.50" font-family="Liberation Serif" font-size="14.2" fill="#222" textLength="33.7" lengthAdjust="spacingAndGlyphs">Outer</text>
<rect x="567.3" y="516.4" width="104.00" height="56.4" fill="#fff" stroke="#7a7a7a" stroke-width="1.1"/>
<line x1="576.60" y1="527.50" x2="621.90" y2="527.50" stroke="#e00d10" stroke-width="2.9"/>
<text x="626.90" y="531.20" font-family="Liberation Serif" font-size="14.2" fill="#222" textLength="38.9" lengthAdjust="spacingAndGlyphs">Centre</text>
<line x1="576.60" y1="544.65" x2="621.90" y2="544.65" stroke="#14ea14" stroke-width="2.9"/>
<text x="626.90" y="548.35" font-family="Liberation Serif" font-size="14.2" fill="#222" textLength="22.3" lengthAdjust="spacingAndGlyphs">Mid</text>
<line x1="576.60" y1="561.80" x2="621.90" y2="561.80" stroke="#0707c4" stroke-width="2.9"/>
<text x="626.90" y="565.50" font-family="Liberation Serif" font-size="14.2" fill="#222" textLength="33.7" lengthAdjust="spacingAndGlyphs">Outer</text>
</svg>
</body></html>
